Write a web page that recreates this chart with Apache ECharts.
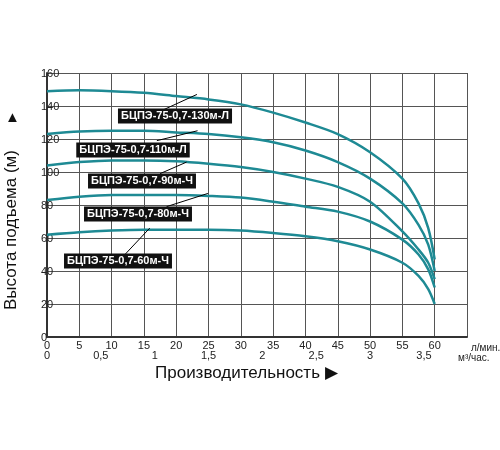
<!DOCTYPE html><html><head><meta charset="utf-8"><script src="https://cdn.jsdelivr.net/npm/echarts@6/dist/echarts.min.js"></script></head><body style="margin:0;background:#fff"><div id="c" style="width:500px;height:450px"></div><script>
const xs=[0,5,10,15,20,25,30,35,40,45,50,55,57.5,59,60];
const names=['БЦПЭ-75-0,7-130м-Л','БЦПЭ-75-0,7-110м-Л','БЦПЭ-75-0,7-90м-Ч','БЦПЭ-75-0,7-80м-Ч','БЦПЭ-75-0,7-60м-Ч'];
const h130=[149,149.5,149,148,146,144,141,136,130,123,112,96,81,66,47];
const h110=[123,124.5,125,125,124,123,121,118,113,106,96,81,68,56,40];
const h90=[104,106,107,107,106.5,105,103,100,96,91,82,64,53,45,35];
const h80=[83,85,86,86,86,85.5,84.5,82,79,76,70,59,50,41,30];
const h60=[62,63.5,64.5,65,65,65,64.5,63,61,58,53,45,37,29,20];
const leaders=[[[17.9,137.5],[23.2,147]],[[17,119],[23.3,125]],[[17.5,99],[21.6,106]],[[18.5,79],[24.9,87]],[[11.7,48.5],[15.9,66]]];
const labelPos=[[175,116],[133,150],[142,181],[138,214],[118,261]];
const all=[h130,h110,h90,h80,h60];
const c=echarts.init(document.getElementById('c'));
const ff='Arial, Liberation Sans, sans-serif';
c.setOption({
animation:false,
grid:{left:47,right:33,top:73,bottom:113},
xAxis:[{type:'value',min:0,max:65,interval:5,axisLine:{lineStyle:{color:'#333',width:2}},axisTick:{show:false},splitLine:{lineStyle:{color:'#555',width:1}},axisLabel:{color:'#222',fontSize:11,fontFamily:ff,margin:3,formatter:v=>v>60?'':v}},
{type:'value',position:'bottom',offset:5,min:0,max:3.9,interval:0.5,axisLine:{show:false},axisTick:{show:false},splitLine:{show:false},axisLabel:{color:'#222',fontSize:11,fontFamily:ff,formatter:v=>v>3.5?'':String(v).replace('.',',')}}],
yAxis:{type:'value',min:0,max:160,interval:20,axisLine:{show:true,lineStyle:{color:'#333',width:2}},axisTick:{show:false},splitLine:{lineStyle:{color:'#555',width:1}},axisLabel:{inside:true,color:'#222',fontSize:11,fontFamily:ff,margin:-6,verticalAlign:'bottom',padding:[0,0,-6,0]}},
series:all.map((d,i)=>({type:'line',name:names[i],data:xs.map((x,j)=>[x,d[j]]),smooth:0.3,showSymbol:false,lineStyle:{color:'#1e8a94',width:2.5},
 markLine:{silent:true,symbol:'none',label:{show:false},lineStyle:{color:'#000',width:1,type:'solid'},data:[[{coord:leaders[i][0]},{coord:leaders[i][1]}]]}})),
graphic:[
...names.map((n,i)=>({type:'text',z:100,x:labelPos[i][0],y:labelPos[i][1],style:{text:n,fill:'#fff',backgroundColor:'#111',padding:[2,3],font:'bold 11px '+ff,align:'center',verticalAlign:'middle'}})),
{type:'text',x:471,y:343,style:{text:'л/мин.',fill:'#222',font:'10px '+ff}},
{type:'text',x:458,y:353,style:{text:'м³/час.',fill:'#222',font:'10px '+ff}},
{type:'text',x:155,y:365,style:{text:'Производительность ▶',fill:'#111',font:'17px '+ff}},
{type:'text',x:3,y:310,rotation:Math.PI/2,style:{text:'Высота подъема (м)',fill:'#111',font:'17px '+ff}},
{type:'text',x:5,y:110,style:{text:'▲',fill:'#111',font:'15px '+ff}}
]});
</script></body></html>
